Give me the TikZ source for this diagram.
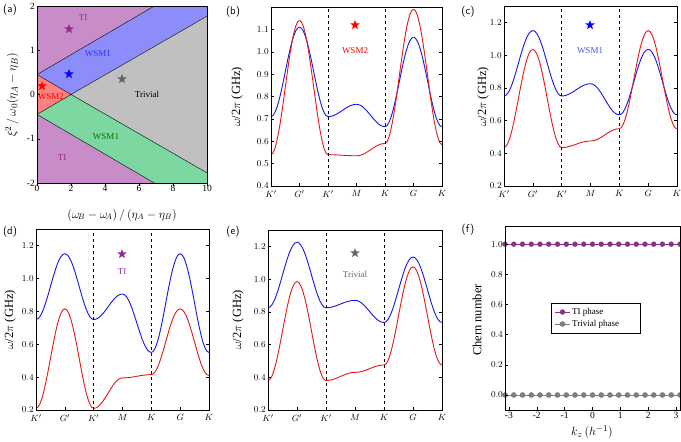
\documentclass[tikz,border=0pt]{standalone}
\usepackage{fontspec}
\setmainfont{Liberation Serif}
\usetikzlibrary{shapes.geometric}
\definecolor{tiregion}{RGB}{200,140,200}
\definecolor{wsmblue}{RGB}{140,140,250}
\definecolor{trivregion}{RGB}{192,192,192}
\definecolor{wsmgreen}{RGB}{125,215,160}
\definecolor{wsmred}{RGB}{255,130,130}
\definecolor{tipurple}{RGB}{150,40,150}
\definecolor{trivgray}{RGB}{100,100,100}
\definecolor{bandred}{RGB}{235,20,20}
\definecolor{bandblue}{RGB}{20,20,240}
\tikzset{
  ticklab/.style={font=\fontsize{9.5}{10}\selectfont, inner sep=2pt},
  axtitle/.style={font=\fontsize{12.5}{13}\selectfont, inner sep=0pt},
  panellab/.style={font=\fontsize{11}{12}\selectfont\sffamily, inner sep=0pt},
  phaselab/.style={font=\fontsize{9}{10}\selectfont, inner sep=0pt},
  starmark/.style={star, star points=5, star point ratio=2.4, inner sep=0pt, minimum size=10pt},
  bandcurve/.style={line width=0.9pt},
  chernmark/.style={circle, fill, draw=black!60, line width=0.3pt, inner sep=1.8pt},
}
% one band: colour, then values at K' G' K' M K G K
\newcommand\bandline[8]{%
  \foreach \ya/\yb [count=\i from 0] in {#2/#3,#3/#4,#4/#5,#5/#6,#6/#7,#7/#8}
    \draw[bandcurve,#1] plot[domain=\i:\i+1,samples=16,variable=\tt] (\tt,{\ya+(\yb-\ya)*(1-cos(180*(\tt-\i)))/2});}
% frame of a band panel: vmin, vmax, tick list
\newcommand\bandaxes[3]{%
  \draw[dashed, thin] (2,#1) -- (2,#2);
  \draw[dashed, thin] (4,#1) -- (4,#2);
  \draw[thin] (0,#1) rectangle (6,#2);
  \foreach \v in {#3} {
    \draw[thin] (0,\v) -- ++(3pt,0);
    \draw[thin] (6,\v) -- ++(-3pt,0);
    \node[ticklab, left] at (0,\v) {\pgfmathprintnumber[fixed,fixed zerofill,precision=1]{\v}};
  }
  \foreach \lab [count=\i from 0] in {K',G',K',M,K,G,K} {
    \draw[thin] (\i,#1) -- ++(0,3pt);
    \node[ticklab, below, yshift=-2pt] at (\i,#1) {$\lab$};
  }}
\begin{document}
\begin{tikzpicture}[x=1pt, y=-1pt]
  \useasboundingbox (0,0) rectangle (681,442);

  % (a) phase diagram
  \begin{scope}[shift={(37,94.5)}, x=17pt, y=44.25pt]
    \fill[tiregion] (0,0.45) -- (6.9,2) -- (0,2) -- cycle;
    \fill[tiregion] (0,-0.45) -- (6.9,-2) -- (0,-2) -- cycle;
    \fill[wsmblue] (0,0.45) -- (6.9,2) -- (10,2) -- (10,1.77) -- (2,0) -- cycle;
    \fill[trivregion] (2,0) -- (10,1.77) -- (10,-1.77) -- cycle;
    \fill[wsmgreen] (0,-0.45) -- (2,0) -- (10,-1.77) -- (10,-2) -- (6.9,-2) -- cycle;
    \fill[wsmred] (0,0.45) -- (2,0) -- (0,-0.45) -- cycle;
    \draw[thin] (0,0.45) -- (6.9,2) (0,0.45) -- (2,0) -- (0,-0.45) -- (6.9,-2)
      (2,0) -- (10,1.77) (2,0) -- (10,-1.77);
    \draw[thin] (0,-2) rectangle (10,2);
    \foreach \xv in {0,2,...,10} {
      \draw[thin] (\xv,-2) -- ++(0,-3pt);
      \node[ticklab, below] at (\xv,-2) {\xv};
    }
    \foreach \yv in {-2,-1,0,1,2} {
      \draw[thin] (0,\yv) -- ++(3pt,0);
      \node[ticklab, left] at (0,\yv) {\yv};
    }
  \end{scope}
  \node[panellab] (laba) at (10,10) {(a)};
  \node[phaselab, text=tipurple] (tiup) at (83,18) {TI};
  \node[starmark, fill=tipurple] (starti) at (69,29) {};
  \node[phaselab, text=blue!80] (wsmup) at (98,54) {WSM1};
  \node[starmark, fill=blue] (starwa) at (69,74) {};
  \node[starmark, fill=red] (starwb) at (42,86) {};
  \node[phaselab, text=red] (wsmtwo) at (51,97) {WSM2};
  \node[starmark, fill=trivgray] (startr) at (122,79) {};
  \node[phaselab] (trivlab) at (147,94) {Trivial};
  \node[phaselab, text=green!45!black] (wsmlow) at (106,137) {WSM1};
  \node[phaselab, text=tipurple] (tilow) at (62,158) {TI};
  \node[axtitle, font=\fontsize{11.5}{12}\selectfont] (xtita) at (122,215) {$(\omega_{\!B}-\omega_{\!A})\,/\,(\eta_A-\eta_B)$};
  \node[axtitle, rotate=90] (ytita) at (12,95) {$\xi^2\,/\,\omega_0(\eta_A-\eta_B)$};

  % (b) WSM2 bands
  \begin{scope}[shift={(271,275.5)}, x=28.5pt, y=223.75pt]
    \bandline{bandblue}{0.71}{1.11}{0.71}{0.765}{0.665}{1.065}{0.665}
    \bandline{bandred}{0.54}{1.14}{0.54}{0.535}{0.59}{1.19}{0.585}
    \bandaxes{0.4}{1.2}{0.4,0.5,...,1.2}
  \end{scope}
  \node[panellab] (labb) at (233,12) {(b)};
  \node[starmark, fill=red] (starb) at (355,25) {};
  \node[phaselab, text=red] (phb) at (355,51) {WSM2};
  \node[axtitle, rotate=90] (ytitb) at (237,97) {$\omega$/2$\pi$ (GHz)};

  % (c) WSM1 bands
  \begin{scope}[shift={(504,218.7)}, x=28.83pt, y=163.6pt]
    \bandline{bandblue}{0.75}{1.15}{0.75}{0.825}{0.635}{1.035}{0.635}
    \bandline{bandred}{0.435}{1.035}{0.435}{0.475}{0.55}{1.15}{0.55}
    \bandaxes{0.2}{1.3}{0.2,0.4,...,1.2}
  \end{scope}
  \node[panellab] (labc) at (468,12) {(c)};
  \node[starmark, fill=blue] (starc) at (590,25) {};
  \node[phaselab, text=blue!70] (phc) at (590,51) {WSM1};
  \node[axtitle, rotate=90] (ytitc) at (483,97) {$\omega$/2$\pi$ (GHz)};

  % (d) TI bands
  \begin{scope}[shift={(36,442.9)}, x=28.83pt, y=164.5pt]
    \bandline{bandblue}{0.75}{1.15}{0.75}{0.905}{0.55}{1.15}{0.55}
    \bandline{bandred}{0.21}{0.815}{0.21}{0.395}{0.415}{0.815}{0.41}
    \bandaxes{0.2}{1.3}{0.2,0.4,...,1.2}
  \end{scope}
  \node[panellab] (labd) at (10,232) {(d)};
  \node[starmark, fill=tipurple] (stard) at (122,254) {};
  \node[phaselab, text=tipurple] (phd) at (122,272) {TI};
  \node[axtitle, rotate=90] (ytitd) at (10,320) {$\omega$/2$\pi$ (GHz)};

  % (e) trivial bands
  \begin{scope}[shift={(268,442.7)}, x=29pt, y=163.6pt]
    \bandline{bandblue}{0.825}{1.225}{0.825}{0.87}{0.735}{1.135}{0.735}
    \bandline{bandred}{0.38}{0.985}{0.38}{0.43}{0.475}{1.075}{0.475}
    \bandaxes{0.2}{1.3}{0.2,0.4,...,1.2}
  \end{scope}
  \node[panellab] (labe) at (233,232) {(e)};
  \node[starmark, fill=trivgray] (stare) at (355,253) {};
  \node[phaselab, text=trivgray] (phe) at (355,274) {Trivial};
  \node[axtitle, rotate=90] (ytite) at (238,320) {$\omega$/2$\pi$ (GHz)};

  % (f) Chern number
  \begin{scope}[shift={(592.5,395)}, x=27.86pt, y=150.8pt]
    \draw[tipurple, thick] (-3.14,1) -- (3.14,1);
    \draw[gray, thick] (-3.14,0) -- (3.14,0);
    \foreach \k in {0,...,20} {
      \node[chernmark, fill=tipurple] at ({-3.14+\k*6.28/20},1) {};
      \node[chernmark, fill=gray] at ({-3.14+\k*6.28/20},0) {};
    }
    \draw[thin] (-3.14,-0.1) rectangle (3.14,1.12);
    \foreach \yv in {0,0.2,...,1.0} {
      \draw[thin] (-3.14,\yv) -- ++(3pt,0);
      \node[ticklab, left] at (-3.14,\yv) {\pgfmathprintnumber[fixed,fixed zerofill,precision=1]{\yv}};
    }
    \foreach \xv in {-3,...,3} {
      \draw[thin] (\xv,-0.1) -- ++(0,3pt);
      \node[ticklab, below] at (\xv,-0.1) {\xv};
    }
  \end{scope}
  \node[panellab] (labf) at (468,230) {(f)};
  \node[axtitle, rotate=90] (ytitf) at (477,320) {Chern number};
  \node[axtitle] (xtitf) at (592,432) {$k_z\,(h^{-1})$};
  \node[draw, thin, minimum width=89pt, minimum height=30pt, anchor=north west] (legf) at (551,303) {};
  \coordinate (lega) at (555,312);
  \coordinate (legb) at (555,324);
  \draw[tipurple, thick] (lega) -- ++(15,0) node[pos=0.5, chernmark, fill=tipurple] {};
  \draw[gray, thick] (legb) -- ++(15,0) node[pos=0.5, chernmark, fill=gray] {};
  \node[phaselab, anchor=west] (legti) at (572,312) {TI phase};
  \node[phaselab, anchor=west] (legtr) at (572,324) {Trivial phase};
\end{tikzpicture}
\end{document}
